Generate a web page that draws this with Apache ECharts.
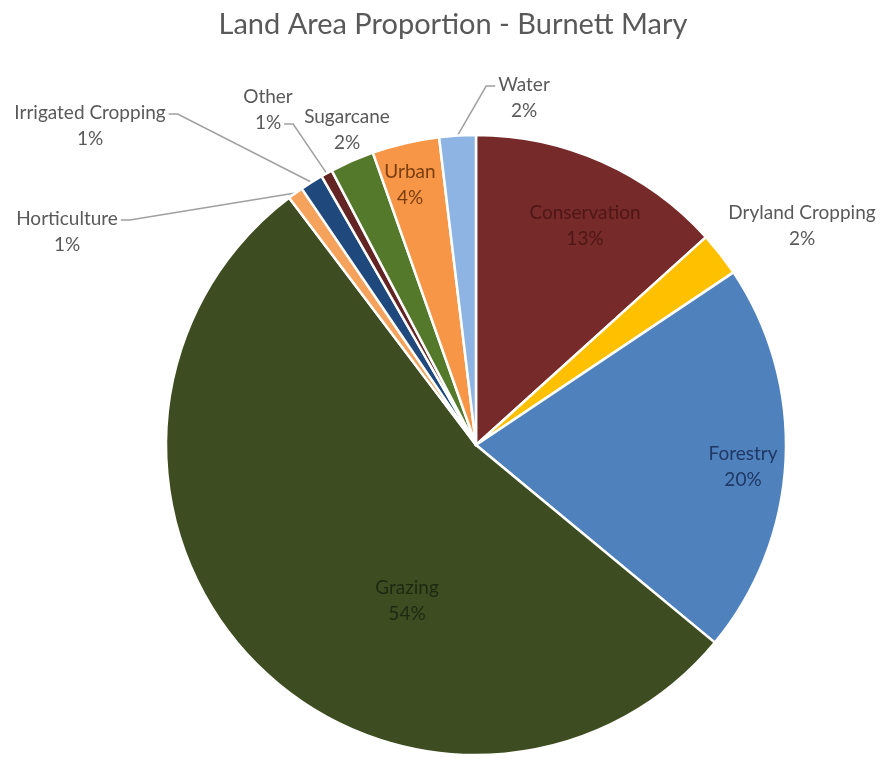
<!DOCTYPE html>
<html>
<head>
<meta charset="utf-8">
<title>Land Area Proportion - Burnett Mary</title>
<script src="https://cdn.jsdelivr.net/npm/echarts@6/dist/echarts.min.js"></script>
<style>
  html, body { margin: 0; padding: 0; background: #ffffff; }
  #chart { width: 880px; height: 762px; }
</style>
</head>
<body>
<div id="chart"></div>
<script>
// Land use categories, clockwise from 12 o'clock
const categories = ['Conservation', 'Dryland Cropping', 'Forestry', 'Grazing', 'Horticulture',
  'Irrigated Cropping', 'Other', 'Sugarcane', 'Urban', 'Water'];
// Share of catchment land area (%)
const shares = [13.3, 2.3, 20.4, 53.7, 0.8, 1.2, 0.6, 2.3, 3.5, 1.9];

const sliceColors = ['#762A29', '#FFC000', '#4F81BD', '#3E4D21', '#F5A35C',
  '#1F497D', '#632523', '#55792A', '#F79646', '#8DB4E2'];
const labelColors = ['#4E1716', '#595959', '#1F3864', '#1E2912', '#595959',
  '#595959', '#595959', '#595959', '#7A3E10', '#595959'];

// Label placement: centre of the text block, plus where a leader line attaches
const placement = {
  'Conservation':       { x: 585, y: 226 },
  'Dryland Cropping':   { x: 802, y: 226 },
  'Forestry':           { x: 743, y: 467 },
  'Grazing':            { x: 407, y: 601 },
  'Horticulture':       { x: 67,  y: 232, side: 'right', row: 0 },
  'Irrigated Cropping': { x: 90,  y: 126, side: 'right', row: 0 },
  'Other':              { x: 268, y: 110, side: 'right', row: 1 },
  'Sugarcane':          { x: 347, y: 130 },
  'Urban':              { x: 410, y: 185 },
  'Water':              { x: 524, y: 98,  side: 'left',  row: 0 }
};

const FONT = 'Lato, "Open Sans", sans-serif';
const FONT_SIZE = 19;
const LINE_H = 26;

const ctx = document.createElement('canvas').getContext('2d');
ctx.font = FONT_SIZE + 'px ' + FONT;
function textWidth(s) { return ctx.measureText(s).width; }

function pctText(v, total) { return Math.round(v / total * 100) + '%'; }
const total = shares.reduce((a, b) => a + b, 0);

const chart = echarts.init(document.getElementById('chart'), null, { renderer: 'canvas' });

chart.setOption({
  backgroundColor: '#ffffff',
  animation: false,
  title: {
    text: 'Land Area Proportion - Burnett Mary',
    left: 448,
    top: 5,
    textAlign: 'center',
    textStyle: { fontFamily: FONT, fontSize: 29, fontWeight: 'normal', color: '#595959' }
  },
  series: [{
    type: 'pie',
    center: [476, 445],
    radius: 310,
    startAngle: 90,
    clockwise: true,
    avoidLabelOverlap: false,
    itemStyle: { borderColor: '#ffffff', borderWidth: 2.5 },
    label: {
      show: true,
      position: 'outside',
      fontFamily: FONT,
      fontSize: FONT_SIZE,
      lineHeight: LINE_H,
      align: 'center',
      color: '#595959',
      formatter: p => p.name + '\n' + pctText(p.value, total)
    },
    labelLine: {
      show: true,
      length: 10,
      length2: 10,
      smooth: false,
      lineStyle: { color: '#A0A0A0', width: 1.5 }
    },
    emphasis: { disabled: true },
    labelLayout: function (params) {
      const name = categories[params.dataIndex];
      const pl = placement[name];
      if (!pl) return {};
      const out = { x: pl.x, y: pl.y, align: 'center', verticalAlign: 'middle' };
      if (pl.side && params.labelLinePoints) {
        const rowText = pl.row === 0 ? name : pctText(shares[params.dataIndex], total);
        const half = textWidth(rowText) / 2;
        const rowY = pl.y + (pl.row === 0 ? -LINE_H / 2 : LINE_H / 2) + 1;
        const dir = pl.side === 'right' ? 1 : -1;
        const endX = pl.x + dir * (half + 3);
        const elbowX = endX + dir * 9;
        const start = params.labelLinePoints[0];
        out.labelLinePoints = [[start[0], start[1]], [elbowX, rowY], [endX, rowY]];
      }
      return out;
    },
    data: categories.map((name, i) => ({
      name: name,
      value: shares[i],
      itemStyle: { color: sliceColors[i] },
      label: { color: labelColors[i] },
      labelLine: { show: !!(placement[name] && placement[name].side) }
    }))
  }]
});
</script>
</body>
</html>
